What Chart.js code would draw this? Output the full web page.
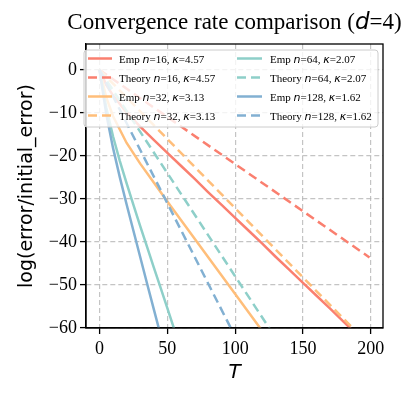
<!DOCTYPE html>
<html>
<head>
<meta charset="utf-8">
<script src="https://cdn.jsdelivr.net/npm/chart.js@4.4.1/dist/chart.umd.min.js"></script>
<style>
  html, body { margin: 0; padding: 0; background: #fff; }
  #wrap { width: 416px; height: 398px; }
</style>
</head>
<body>
<div id="wrap"><canvas id="chart" width="416" height="398"></canvas></div>
<script>
const SERIF = "'Liberation Serif', 'Times New Roman', serif";
const SANS = "'DejaVu Sans', sans-serif";

// values
const nValues = [16, 32, 64, 128];
const kappas = ["4.57", "3.13", "2.07", "1.62"];
const colors = ["#FA7F6F", "#FFBE7A", "#8ECFC9", "#82B0D2"];

const empT16 = [0, 5, 10, 20, 30, 40, 50, 60, 70, 80, 90, 100, 110, 120, 130, 140, 150, 160, 170, 180, 190, 199];
const emp16 = [0, -3.5, -6.0, -9.9, -13.2, -16.3, -19.3, -22.3, -25.3, -28.4, -31.4, -34.4, -37.4, -40.4, -43.5, -46.5, -49.5, -52.5, -55.5, -58.6, -61.6, -64.3];
const empT32 = [0, 5, 10, 20, 30, 40, 50, 60, 70, 80, 90, 100, 110, 120, 130];
const emp32 = [0, -6.4, -10.8, -17.0, -21.8, -26.2, -30.6, -34.9, -39.2, -43.5, -47.8, -52.1, -56.4, -60.7, -65.0];
const empT64 = [0, 5, 10, 15, 20, 25, 30, 35, 40, 45, 50, 55, 60];
const emp64 = [0, -8.8, -15.5, -21.2, -26.4, -31.4, -36.3, -41.1, -45.9, -50.6, -55.4, -60.2, -64.9];
const empT128 = [0, 5, 10, 15, 20, 25, 30, 35, 40, 45];
const emp128 = [0, -10.3, -18.2, -25.0, -31.3, -37.4, -43.5, -49.6, -55.6, -61.6];

const theoryT = [0, 199];
const theory16 = [0, -43.6];
const theory32 = [0, -64.0];
const theory64 = [0, -95.5];
const theory128 = [0, -123.4];

const xTicks = [0, 50, 100, 150, 200];
const yTicks = [-60, -50, -40, -30, -20, -10, 0];

const empSeries = [[empT16, emp16], [empT32, emp32], [empT64, emp64], [empT128, emp128]];
const theorySeries = [theory16, theory32, theory64, theory128];

function toPoints(xs, ys) {
  return xs.map((x, i) => ({ x: x, y: ys[i] }));
}

const datasets = [];
nValues.forEach((n, i) => {
  datasets.push({
    label: `Emp n=${n}, κ=${kappas[i]}`,
    data: toPoints(empSeries[i][0], empSeries[i][1]),
    borderColor: colors[i],
    borderWidth: 2.5,
    order: 20 - 2 * i,
  });
  datasets.push({
    label: `Theory n=${n}, κ=${kappas[i]}`,
    data: toPoints(theoryT, theorySeries[i]),
    borderColor: colors[i],
    borderWidth: 2.5,
    borderDash: [9, 5],
    order: 19 - 2 * i,
  });
});

function drawRich(ctx, parts, x, y, align) {
  let total = 0;
  parts.forEach(p => { ctx.font = p.font; p.w = ctx.measureText(p.text).width; total += p.w; });
  let cx = align === "center" ? x - total / 2 : x;
  ctx.textBaseline = "alphabetic";
  ctx.textAlign = "left";
  parts.forEach(p => { ctx.font = p.font; ctx.fillText(p.text, cx, y); cx += p.w; });
}

const framePlugin = {
  id: "frame",
  afterDatasetsDraw(chart) {
    const { ctx, chartArea: a } = chart;
    ctx.save();
    ctx.strokeStyle = "#000";
    ctx.lineWidth = 1.3;
    ctx.strokeRect(a.left, a.top, a.right - a.left, a.bottom - a.top);
    ctx.restore();
  },
};

const titlePlugin = {
  id: "richTitle",
  afterDraw(chart) {
    const { ctx, chartArea: a } = chart;
    ctx.save();
    ctx.fillStyle = "#000";
    drawRich(ctx, [
      { text: "Convergence rate comparison (", font: `23px ${SERIF}` },
      { text: "d", font: `italic 23px ${SANS}` },
      { text: "=4)", font: `23px ${SERIF}` },
    ], (a.left + a.right) / 2, 29, "center");
    ctx.restore();
  },
};

const legendPlugin = {
  id: "innerLegend",
  afterDraw(chart) {
    const { ctx } = chart;
    const box = { x: 84, y: 50, w: 294, h: 77 };
    ctx.save();
    ctx.beginPath();
    ctx.roundRect(box.x, box.y, box.w, box.h, 3);
    ctx.fillStyle = "rgba(255,255,255,0.8)";
    ctx.fill();
    ctx.strokeStyle = "#cccccc";
    ctx.lineWidth = 1;
    ctx.stroke();
    const rows = [58.5, 77.5, 96.5, 115.5];
    const cols = [{ h0: 88, h1: 112, t: 119 }, { h0: 237, h1: 262, t: 270 }];
    datasets.forEach((ds, k) => {
      const col = cols[Math.floor(k / 4)];
      const y = rows[k % 4];
      ctx.beginPath();
      ctx.strokeStyle = ds.borderColor;
      ctx.lineWidth = 2.5;
      ctx.setLineDash(ds.borderDash || []);
      ctx.moveTo(col.h0, y);
      ctx.lineTo(col.h1, y);
      ctx.stroke();
      ctx.setLineDash([]);
      const i = Math.floor(k / 2);
      const kind = k % 2 === 0 ? "Emp " : "Theory ";
      ctx.fillStyle = "#000";
      drawRich(ctx, [
        { text: kind, font: `11px ${SERIF}` },
        { text: "n", font: `italic 11px ${SANS}` },
        { text: `=${nValues[i]}, `, font: `11px ${SERIF}` },
        { text: "κ", font: `italic 11px ${SANS}` },
        { text: `=${kappas[i]}`, font: `11px ${SERIF}` },
      ], col.t, y + 4, "left");
    });
    ctx.restore();
  },
};

const gridColor = "rgba(176,176,176,0.75)";

new Chart(document.getElementById("chart"), {
  type: "line",
  data: { datasets },
  options: {
    responsive: false,
    animation: false,
    layout: { padding: { top: 44, right: 33, left: 0, bottom: 0 } },
    elements: { point: { radius: 0 }, line: { tension: 0 } },
    plugins: {
      legend: { display: false },
      title: { display: false },
      tooltip: { enabled: false },
    },
    scales: {
      x: {
        type: "linear",
        min: -9.95,
        max: 208.95,
        afterBuildTicks: (s) => { s.ticks = xTicks.map(v => ({ value: v })); },
        afterFit: (s) => { s.height = 70; },
        grid: { color: gridColor, lineWidth: 1.2, tickColor: "#000", tickLength: 6, tickWidth: 1.3, tickBorderDash: [] },
        border: { display: true, color: "#000", width: 1.3, dash: [5, 3] },
        ticks: { color: "#000", font: { family: SERIF, size: 18 }, padding: 4, maxRotation: 0 },
        title: { display: true, text: "T", color: "#000", font: { family: SANS, size: 20, style: "italic" }, padding: { top: 13, bottom: 13 } },
      },
      y: {
        type: "linear",
        min: -60,
        max: 6,
        afterBuildTicks: (s) => { s.ticks = yTicks.map(v => ({ value: v })); },
        afterFit: (s) => { s.width = 86; },
        grid: { color: gridColor, lineWidth: 1.2, tickColor: "#000", tickLength: 6, tickWidth: 1.3, tickBorderDash: [] },
        border: { display: true, color: "#000", width: 1.3, dash: [5, 3] },
        ticks: {
          color: "#000",
          font: { family: SERIF, size: 18 },
          padding: 3,
          callback: (v) => (v < 0 ? "\u2212" + Math.abs(v) : String(v)),
        },
        title: { display: true, text: "log(error/initial_error)", color: "#000", font: { family: SANS, size: 19 }, padding: { top: 16, bottom: 16 } },
      },
    },
  },
  plugins: [framePlugin, legendPlugin, titlePlugin],
});
</script>
</body>
</html>
